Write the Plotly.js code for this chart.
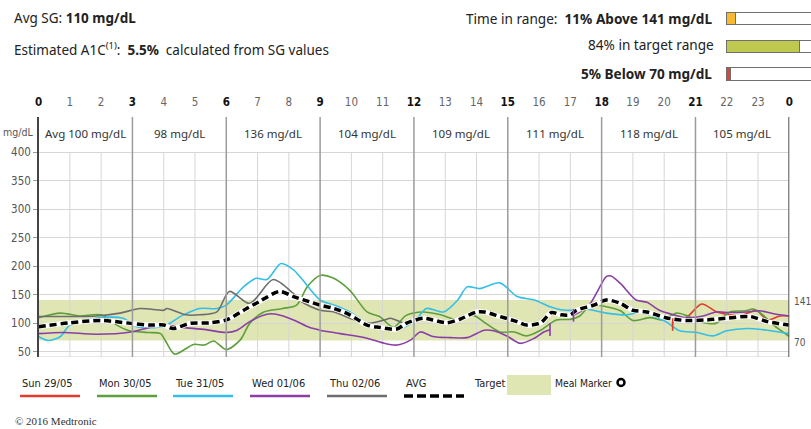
<!DOCTYPE html>
<html>
<head>
<meta charset="utf-8">
<script src="https://cdn.plot.ly/plotly-3.0.1.min.js"></script>
<style>html,body{margin:0;padding:0;background:#fff;}#chart{width:811px;height:429px;}</style>
</head>
<body>
<div id="chart"></div>
<script>
// ---------------- DATA ----------------
const hourTicks = [0,1,2,3,4,5,6,7,8,9,10,11,12,13,14,15,16,17,18,19,20,21,22,23,24];
const hourLabels = ['0','1','2','3','4','5','6','7','8','9','10','11','12','13','14','15','16','17','18','19','20','21','22','23','0'];
const yTicks = [50,100,150,200,250,300,350,400];
const periodCenters = [1.5,4.5,7.5,10.5,13.5,16.5,19.5,22.5];
const periodAvg = [100,98,136,104,109,111,118,105];
const targetRange = [70,141];
const avgSG = 110;
const estA1C = 5.5;
const rangeKeys = ['above','target','below'];
const rangePct = [11,84,5];

const sunHours = [20.27,20.3,20.7,21.2,21.65,22.1,22.45,22.8,22.95,23.3,23.7,24];
const sunSG    = [98,106,110,134,121,115,113,121,123,106,113,113];

const monHours = [0,0.7,1.3,2.0,2.5,2.9,3.5,3.9,4.05,4.35,4.95,5.3,5.6,6.0,6.45,6.75,7.2,7.8,8.25,8.6,9.0,9.4,9.95,10.5,10.9,11.35,11.75,12.3,12.85,13.4,13.9,14.3,14.75,15.2,15.6,16.05,16.55,17.0,17.3,17.65,18.15,18.6,19.0,19.55,19.95,20.4,20.7,21.15,21.65,22.1,22.6,22.85,23.15,23.5,24];
const monSG    = [110,118,113,115,97,87,84,82,70,46,63,62,69,54,71,100,120,126,132,165,184,180,158,120,112,93,114,120,115,106,114,100,85,85,78,88,106,107,113,132,129,122,105,110,106,118,114,103,100,120,122,125,115,97,77];

const tueHours = [0,0.3,0.7,1.0,1.85,2.7,3.15,4.0,4.6,5.15,5.7,6.0,6.55,6.95,7.3,7.75,8.15,8.4,9.0,9.45,9.95,10.5,11.05,11.45,12.0,12.4,12.95,13.4,13.7,14.1,14.75,15.3,15.85,16.35,16.7,17.1,17.4,18.15,18.8,19.2,19.65,20.05,20.5,21.05,21.55,22.0,22.65,23.3,24];
const tueSG    = [77,70,77,97,109,109,94,95,114,126,126,132,164,179,177,205,194,179,141,132,120,100,93,89,103,126,120,141,164,161,171,147,141,129,124,123,126,118,115,119,113,103,87,84,78,87,91,88,82];

const wedHours = [0,0.8,1.85,2.95,3.55,4.0,4.6,5.35,6.0,6.35,6.75,7.3,7.6,8.15,8.65,9.0,9.65,10.5,11.05,11.45,11.9,12.2,12.6,13.15,13.7,14.25,14.55,15.0,15.4,15.85,16.15,16.35,16.7,17.1,17.6,18.15,18.3,18.6,19.1,19.45,19.85,20.3,20.7,21.25,21.65,22.1,22.65,23.05,23.5,24];
const wedSG    = [82,84,81,85,93,97,93,89,84,88,103,116,116,106,93,88,82,74,65,62,71,85,77,75,75,88,87,77,65,74,85,89,null,114,132,182,183,170,141,137,123,115,110,113,120,119,120,122,117,113];

const thuHours = [0,1.85,2.6,3.25,4.0,4.1,4.7,5.15,5.7,6.1,6.75,7.5,8.15,8.4,9.0,9.45,9.95,10.5,11.05,11.25,11.55,11.8];
const thuSG    = [112,113,118,126,123,126,115,115,120,156,135,177,152,138,123,120,109,100,106,109,103,97];

const avgHours = [0,1.0,2.0,2.95,3.55,4.0,4.3,4.85,5.5,6.0,6.65,7.05,7.7,8.15,8.65,9.0,9.45,9.95,10.5,10.9,11.45,11.75,12.3,12.6,13.05,13.5,14.0,14.25,14.75,15.3,15.6,16.05,16.4,16.7,17.0,17.2,17.75,18.15,18.6,19.0,19.45,20.05,20.7,21.35,22.0,22.75,23.3,24];
const avgSGcurve = [94,101,105,100,97,97,91,100,101,106,126,138,156,147,138,132,126,115,97,93,90,100,109,106,101,108,120,120,112,103,97,101,119,115,115,123,132,141,135,123,120,110,105,106,109,112,103,97];

const seriesNames = ['Sun 29/05','Mon 30/05','Tue 31/05','Wed 01/06','Thu 02/06'];

// ---------------- STYLE ----------------
const W = 811, H = 429;
const px = x => x / W;
const py = y => 1 - y / H;
const COND = '"Liberation Sans Narrow","DejaVu Sans Condensed","Roboto",sans-serif';
const SANS = '"Noto Sans","Open Sans",sans-serif';
const colors = ['#e53a2c','#5e9f3c','#34bfe8','#8a3ea8','#6d6d6d'];
const bandColor = '#dfe5b3';

function lineTrace(x, y, color, name) {
  return {x: x, y: y, type: 'scatter', mode: 'lines', name: name,
    line: {color: color, width: 1.6, shape: 'spline', smoothing: 0.8},
    connectgaps: false, hoverinfo: 'skip', xaxis: 'x', yaxis: 'y'};
}

const traces = [
  lineTrace(sunHours, sunSG, colors[0], seriesNames[0]),
  lineTrace(monHours, monSG, colors[1], seriesNames[1]),
  lineTrace(tueHours, tueSG, colors[2], seriesNames[2]),
  lineTrace(wedHours, wedSG, colors[3], seriesNames[3]),
  lineTrace(thuHours, thuSG, colors[4], seriesNames[4]),
  {x: avgHours, y: avgSGcurve, type: 'scatter', mode: 'lines', hoverinfo: 'skip',
   line: {color: '#ffffff', width: 5, shape: 'spline', smoothing: 0.8}},
  {x: avgHours, y: avgSGcurve, type: 'scatter', mode: 'lines', name: 'AVG', hoverinfo: 'skip',
   line: {color: '#000000', width: 3.5, dash: '7px,4px', shape: 'spline', smoothing: 0.8}},
  // gap tick markers
  {x: [wedHours[31], wedHours[33], sunHours[0]], y: [wedSG[31], wedSG[33], sunSG[0]], type: 'scatter', mode: 'markers', hoverinfo: 'skip',
   marker: {symbol: 'line-ns-open', size: 9, color: [colors[3], colors[3], colors[0]], line: {width: 1.6, color: [colors[3], colors[3], colors[0]]}}},
  // time in range bars
  {type: 'bar', orientation: 'h', y: rangeKeys, x: rangePct, xaxis: 'x2', yaxis: 'y2', hoverinfo: 'skip',
   marker: {color: ['#f6b92f','#bfc94f','#d9473a'], line: {color: '#6f6f6f', width: 1}}},
  {type: 'bar', orientation: 'h', y: rangeKeys, x: rangePct.map(v => 100 - v), xaxis: 'x2', yaxis: 'y2', hoverinfo: 'skip',
   marker: {color: '#ffffff', line: {color: '#6f6f6f', width: 1}}}
];

const shapes = [];
// target band
shapes.push({type: 'rect', xref: 'x', yref: 'y', x0: 0, x1: 24, y0: targetRange[0], y1: targetRange[1],
  fillcolor: bandColor, line: {width: 0}, layer: 'below'});
// hourly grid (to 400)
hourTicks.forEach(h => {
  if (h % 3 !== 0) shapes.push({type: 'line', xref: 'x', yref: 'y', x0: h, x1: h, y0: 41, y1: 400,
    line: {color: '#d6d6d6', width: 1}, layer: 'below'});
});
// bottom line
shapes.push({type: 'line', xref: 'x', yref: 'y', x0: 0, x1: 24, y0: 41, y1: 41, line: {color: '#cfcfcf', width: 1}, layer: 'below'});
// 3-hour separators
hourTicks.forEach(h => {
  if (h % 3 === 0 && h !== 0) shapes.push({type: 'line', xref: 'x', yref: 'y', x0: h, x1: h, y0: 41, y1: 462,
    line: {color: h === 24 ? '#555555' : '#9c9c9c', width: h === 24 ? 2 : 1.5}});
});

const annotations = [];
function ann(o) { annotations.push(Object.assign({showarrow: false, xref: 'paper', yref: 'paper'}, o)); }

// header texts
ann({x: px(12), y: py(18), xanchor: 'left', yanchor: 'middle', text: 'Avg SG: <b>' + avgSG + ' mg/dL</b>', font: {family: SANS, size: 13.5, color: '#222'}});
ann({x: px(12), y: py(49), xanchor: 'left', yanchor: 'middle', text: 'Estimated A1C<sup>(1)</sup>:  <b>' + estA1C + '%</b>  calculated from SG values', font: {family: SANS, size: 13.5, color: '#222'}});
ann({x: px(714), y: py(18), xanchor: 'right', yanchor: 'middle', text: 'Time in range:  <b>' + rangePct[0] + '% Above ' + targetRange[1] + ' mg/dL</b>', font: {family: SANS, size: 13.6, color: '#222'}});
ann({x: px(716), y: py(44.5), xanchor: 'right', yanchor: 'middle', text: rangePct[1] + '% in target range', font: {family: SANS, size: 13.6, color: '#222'}});
ann({x: px(714), y: py(74), xanchor: 'right', yanchor: 'middle', text: '<b>' + rangePct[2] + '% Below ' + targetRange[0] + ' mg/dL</b>', font: {family: SANS, size: 13.6, color: '#222'}});

// period averages
periodCenters.forEach((c, i) => {
  annotations.push({x: c, xref: 'x', y: py(133), yref: 'paper', showarrow: false, yanchor: 'middle',
    text: (i === 0 ? 'Avg ' : '') + periodAvg[i] + ' mg/dL', font: {family: SANS, size: 11.5, color: '#333'}});
});
ann({x: px(35), y: py(132), xanchor: 'right', yanchor: 'middle', text: 'mg/dL', font: {family: COND, size: 10.5, color: '#555'}});

// target labels at right
targetRange.forEach(v => {
  annotations.push({x: px(792), xref: 'paper', y: v, yref: 'y', yshift: -2, showarrow: false, xanchor: 'left', yanchor: 'middle',
    text: String(v), font: {family: COND, size: 10, color: '#555'}});
});

// legend
const legX = [20, 97, 173, 250, 327];
const LEGF = {family: COND, size: 11, color: '#222'};
seriesNames.forEach((n, i) => {
  ann({x: px(legX[i]), y: py(383), xanchor: 'left', yanchor: 'middle', text: n, font: LEGF});
  shapes.push({type: 'line', xref: 'paper', yref: 'paper', x0: px(legX[i]), x1: px(legX[i] + 60), y0: py(396), y1: py(396),
    line: {color: colors[i], width: 2.5}});
});
ann({x: px(404), y: py(383), xanchor: 'left', yanchor: 'middle', text: 'AVG', font: LEGF});
shapes.push({type: 'line', xref: 'paper', yref: 'paper', x0: px(404), x1: px(464), y0: py(396), y1: py(396),
  line: {color: '#000', width: 3.5, dash: '9px,4px'}});
ann({x: px(472), y: py(383), xanchor: 'left', yanchor: 'middle', text: 'Target', font: LEGF});
shapes.push({type: 'rect', xref: 'paper', yref: 'paper', x0: px(507), x1: px(551), y0: py(395), y1: py(375), fillcolor: bandColor, line: {width: 0}});
ann({x: px(614), y: py(383), xanchor: 'right', yanchor: 'middle', text: 'Meal Marker', font: {family: COND, size: 10.3, color: '#222'}});
shapes.push({type: 'circle', xref: 'paper', yref: 'paper', x0: px(617.5), x1: px(624.5), y0: py(386), y1: py(379), line: {color: '#000', width: 2.5}});
ann({x: px(13), y: py(421), xanchor: 'left', yanchor: 'middle', text: '© 2016 Medtronic', font: {family: '"Liberation Serif","DejaVu Serif",serif', size: 11, color: '#333'}});

const tickText = hourLabels.map((l, i) => hourTicks[i] % 3 === 0 ? '<b><span style="color:#111">' + l + '</span></b>' : l);

const layout = {
  width: W, height: H,
  margin: {l: 0, r: 0, t: 0, b: 0, pad: 0},
  paper_bgcolor: '#fff', plot_bgcolor: 'rgba(0,0,0,0)',
  showlegend: false,
  barmode: 'stack', bargap: 0.55,
  xaxis: {domain: [px(38.6), px(789.3)], range: [0, 24], side: 'top', tickmode: 'array', tickvals: hourTicks, ticktext: tickText,
    showgrid: false, zeroline: false, showline: false, ticks: '', ticklabelstandoff: 8,
    tickfont: {family: COND, size: 11.5, color: '#666'}, anchor: 'y', fixedrange: true},
  yaxis: {domain: [py(357), py(117)], range: [41, 462], tickmode: 'array', tickvals: yTicks,
    showgrid: true, gridcolor: '#d6d6d6', gridwidth: 1, zeroline: false,
    showline: true, linecolor: '#444', linewidth: 1.5, ticks: 'outside', ticklen: 4, tickcolor: '#999',
    tickfont: {family: COND, size: 11.5, color: '#555'}, anchor: 'x', fixedrange: true},
  xaxis2: {domain: [px(726), 1], range: [0, 96.6], visible: false, anchor: 'y2', fixedrange: true},
  yaxis2: {domain: [py(88), py(4.6)], type: 'category', categoryorder: 'array', categoryarray: rangeKeys, autorange: 'reversed',
    visible: false, anchor: 'x2', fixedrange: true},
  shapes: shapes,
  annotations: annotations
};

Plotly.newPlot('chart', traces, layout, {displayModeBar: false, staticPlot: true});
</script>
</body>
</html>
